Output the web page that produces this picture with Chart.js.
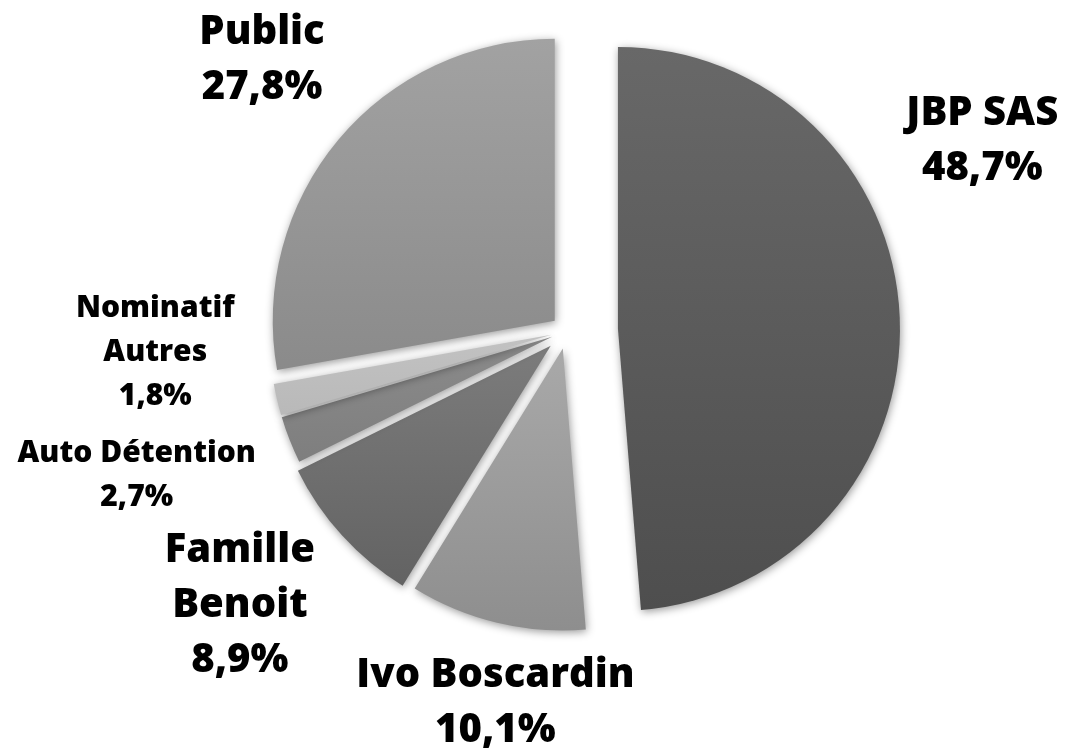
<!DOCTYPE html>
<html>
<head>
<meta charset="utf-8">
<script src="https://cdn.jsdelivr.net/npm/chart.js@4/dist/chart.umd.min.js"></script>
<style>
  html, body { margin: 0; padding: 0; background: #fff; }
  #wrap { width: 1069px; height: 750px; position: relative; }
</style>
</head>
<body>
<div id="wrap"><canvas id="chart"></canvas></div>
<script>
(function () {
  'use strict';

  // données
  var categories = ['JBP SAS', 'Ivo Boscardin', 'Famille Benoit', 'Auto Détention', 'Nominatif Autres', 'Public'];
  var values = [48.7, 10.1, 8.9, 2.7, 1.8, 27.8];
  var labelLines = [['JBP SAS'], ['Ivo Boscardin'], ['Famille', 'Benoit'], ['Auto Détention'], ['Nominatif', 'Autres'], ['Public']];

  // style : dégradés gris (haut, bas), éclatement, étiquettes
  var gradients = [
    ['#686868', '#4e4e4e'],
    ['#c4c4c4', '#8e8e8e'],
    ['#9a9a9a', '#5e5e5e'],
    ['#a8a8a8', '#6e6e6e'],
    ['#e2e2e2', '#a2a2a2'],
    ['#a2a2a2', '#7a7a7a']
  ];
  var explode = [51, 18, 22, 16, 16, 16];
  var bigLabel = [true, true, true, false, false, true];
  var nudge = [[49, -175], [14, 16], [-56, 28], [-89, 11], [-55, -63], [-24, -35]];

  function pct(v) { return v.toFixed(1).replace('.', ',') + '%'; }

  function sliceFill(c) {
    var i = c.dataIndex;
    var area = c.chart.chartArea;
    if (!area || i === undefined) return gradients[0][0];
    var g = c.chart.ctx.createLinearGradient(0, area.top, 0, area.bottom);
    g.addColorStop(0, gradients[i][0]);
    g.addColorStop(1, gradients[i][1]);
    return g;
  }

  var explodePlugin = {
    id: 'explode',
    beforeDatasetsDraw: function (chart) {
      var ctx = chart.ctx;
      var meta = chart.getDatasetMeta(0);
      meta.data.forEach(function (arc, i) {
        var mid = (arc.startAngle + arc.endAngle) / 2;
        ctx.save();
        ctx.translate(Math.cos(mid) * explode[i], Math.sin(mid) * explode[i]);
        ctx.shadowColor = 'rgba(0,0,0,0.4)';
        ctx.shadowBlur = 8;
        ctx.shadowOffsetX = 1;
        ctx.shadowOffsetY = 2;
        arc.draw(ctx);
        ctx.restore();
      });
      return false;
    },
    afterDraw: function (chart) {
      var ctx = chart.ctx;
      var meta = chart.getDatasetMeta(0);
      ctx.save();
      ctx.fillStyle = '#000';
      ctx.textAlign = 'center';
      ctx.textBaseline = 'middle';
      meta.data.forEach(function (arc, i) {
        var mid = (arc.startAngle + arc.endAngle) / 2;
        var r = arc.outerRadius * 1.3;
        var x = arc.x + Math.cos(mid) * r + nudge[i][0];
        var y = arc.y + Math.sin(mid) * r + nudge[i][1];
        var lines = labelLines[i].concat([pct(values[i])]);
        var size = bigLabel[i] ? 40 : 30;
        var lh = bigLabel[i] ? 55 : 44;
        ctx.font = '800 ' + size + 'px "Open Sans", sans-serif';
        var y0 = y - (lines.length - 1) * lh / 2;
        lines.forEach(function (t, k) { ctx.fillText(t, x, y0 + k * lh); });
      });
      ctx.restore();
    }
  };

  new Chart(document.getElementById('chart'), {
    type: 'pie',
    data: {
      labels: categories,
      datasets: [{
        data: values,
        backgroundColor: sliceFill,
        borderWidth: 0
      }]
    },
    options: {
      responsive: true,
      maintainAspectRatio: false,
      animation: false,
      events: [],
      layout: { padding: { top: 49, bottom: 137, left: 100, right: 35 } },
      plugins: { legend: { display: false }, tooltip: { enabled: false } }
    },
    plugins: [explodePlugin]
  });
})();
</script>
</body>
</html>
